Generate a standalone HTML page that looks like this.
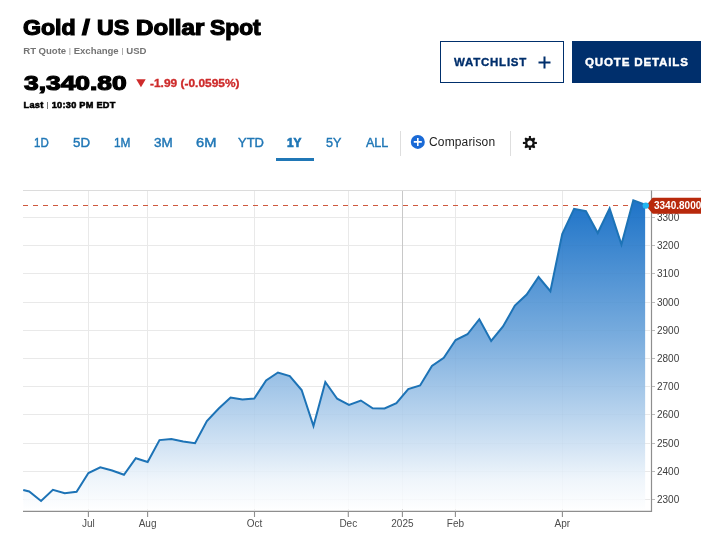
<!DOCTYPE html>
<html><head><meta charset="utf-8"><title>Gold / US Dollar Spot</title>
<style>
html,body{margin:0;padding:0;background:#fff;}
body{width:724px;height:540px;position:relative;overflow:hidden;font-family:"Liberation Sans", Arial, sans-serif;}
.t{position:absolute;white-space:nowrap;line-height:1;font-family:"Liberation Sans", Arial, sans-serif;}
.chart{position:absolute;left:0;top:0;}
.t b{font-weight:normal;-webkit-text-stroke:0;font-size:.74em;position:relative;top:-.09em;padding:0 .04em}
.btn{position:absolute;box-sizing:border-box;top:40.8px;height:41.8px;}
#b1{left:439.8px;width:124.4px;border:1.4px solid #002f6c;background:#fff;}
#b2{left:571.9px;width:129.2px;background:#002f6c;}
.sep{position:absolute;top:131px;height:25px;width:1px;background:#dedede;}
#ul{position:absolute;left:276.1px;top:157.7px;width:38px;height:3px;background:#2077b6;}
</style></head><body>
<svg class="chart" width="724" height="540" viewBox="0 0 724 540">
<defs>
<linearGradient id="g" gradientUnits="userSpaceOnUse" x1="0" y1="195" x2="0" y2="511">
<stop offset="0" stop-color="#1a71c7"/>
<stop offset="0.45" stop-color="#7aadde"/>
<stop offset="0.78" stop-color="#cee1f3"/>
<stop offset="0.9" stop-color="#eff5fb"/>
<stop offset="1" stop-color="#ffffff"/>
</linearGradient>
<clipPath id="a"><path d="M23.25,509.3 L23.25,490.0 L29.2,491.5 L41.05,501 L52.89,489.75 L64.73,493.25 L76.58,491.75 L88.42,473 L100.27,467.25 L112.12,470.5 L123.96,474.75 L135.81,458.25 L147.65,462 L159.5,440.1 L171.34,438.9 L183.19,441.5 L195.03,443.25 L206.88,421 L218.72,408.5 L230.56,397.5 L242.41,399.5 L254.25,398.5 L266.1,380.5 L277.94,372.5 L289.79,376 L301.63,390 L313.48,426 L325.32,382 L337.17,398.75 L349.01,405 L360.86,400.5 L372.7,408.25 L384.55,408.5 L396.39,403.25 L408.24,389 L420.09,385.5 L431.93,366 L443.78,357.75 L455.62,340 L467.47,334.25 L479.31,319.2 L491.16,341 L503.0,326.5 L514.85,305.6 L526.69,294.5 L538.54,277 L550.38,291.2 L562.23,234 L574.07,208.8 L585.92,211.2 L597.76,233 L609.61,208.5 L621.45,244.5 L633.3,200.3 L645.14,204.8 L645.14,509.3 Z"/></clipPath>
<clipPath id="c"><rect x="0" y="0" width="701" height="540"/></clipPath>
</defs>
<g stroke="#e9e9e9" stroke-width="1" shape-rendering="crispEdges"><line x1="23" x2="650" y1="499.5" y2="499.5"/><line x1="23" x2="650" y1="471.5" y2="471.5"/><line x1="23" x2="650" y1="443.5" y2="443.5"/><line x1="23" x2="650" y1="414.5" y2="414.5"/><line x1="23" x2="650" y1="386.5" y2="386.5"/><line x1="23" x2="650" y1="358.5" y2="358.5"/><line x1="23" x2="650" y1="330.5" y2="330.5"/><line x1="23" x2="650" y1="302.5" y2="302.5"/><line x1="23" x2="650" y1="273.5" y2="273.5"/><line x1="23" x2="650" y1="245.5" y2="245.5"/><line x1="23" x2="650" y1="217.5" y2="217.5"/><line x1="88.4" x2="88.4" y1="190.5" y2="510" /><line x1="147.6" x2="147.6" y1="190.5" y2="510" /><line x1="254.5" x2="254.5" y1="190.5" y2="510" /><line x1="348.3" x2="348.3" y1="190.5" y2="510" /><line x1="402.4" x2="402.4" y1="190.5" y2="510" stroke="#c8c8c8"/><line x1="455.4" x2="455.4" y1="190.5" y2="510" /><line x1="562.4" x2="562.4" y1="190.5" y2="510" /></g>
<line x1="23" x2="701" y1="190.5" y2="190.5" stroke="#dcdcdc" stroke-width="1"/>
<line x1="23" x2="650" y1="205.5" y2="205.5" stroke="#cf5a3f" stroke-width="1.2" stroke-dasharray="5 5"/>
<path d="M23.25,509.3 L23.25,490.0 L29.2,491.5 L41.05,501 L52.89,489.75 L64.73,493.25 L76.58,491.75 L88.42,473 L100.27,467.25 L112.12,470.5 L123.96,474.75 L135.81,458.25 L147.65,462 L159.5,440.1 L171.34,438.9 L183.19,441.5 L195.03,443.25 L206.88,421 L218.72,408.5 L230.56,397.5 L242.41,399.5 L254.25,398.5 L266.1,380.5 L277.94,372.5 L289.79,376 L301.63,390 L313.48,426 L325.32,382 L337.17,398.75 L349.01,405 L360.86,400.5 L372.7,408.25 L384.55,408.5 L396.39,403.25 L408.24,389 L420.09,385.5 L431.93,366 L443.78,357.75 L455.62,340 L467.47,334.25 L479.31,319.2 L491.16,341 L503.0,326.5 L514.85,305.6 L526.69,294.5 L538.54,277 L550.38,291.2 L562.23,234 L574.07,208.8 L585.92,211.2 L597.76,233 L609.61,208.5 L621.45,244.5 L633.3,200.3 L645.14,204.8 L645.14,509.3 Z" fill="url(#g)"/>
<g clip-path="url(#a)" stroke="#000" stroke-opacity="0.013" stroke-width="1" shape-rendering="crispEdges"><line x1="23" x2="650" y1="499.5" y2="499.5"/><line x1="23" x2="650" y1="471.5" y2="471.5"/><line x1="23" x2="650" y1="443.5" y2="443.5"/><line x1="23" x2="650" y1="414.5" y2="414.5"/><line x1="23" x2="650" y1="386.5" y2="386.5"/><line x1="23" x2="650" y1="358.5" y2="358.5"/><line x1="23" x2="650" y1="330.5" y2="330.5"/><line x1="23" x2="650" y1="302.5" y2="302.5"/><line x1="23" x2="650" y1="273.5" y2="273.5"/><line x1="23" x2="650" y1="245.5" y2="245.5"/><line x1="23" x2="650" y1="217.5" y2="217.5"/><line x1="88.4" x2="88.4" y1="190.5" y2="510" /><line x1="147.6" x2="147.6" y1="190.5" y2="510" /><line x1="254.5" x2="254.5" y1="190.5" y2="510" /><line x1="348.3" x2="348.3" y1="190.5" y2="510" /><line x1="402.4" x2="402.4" y1="190.5" y2="510" /><line x1="455.4" x2="455.4" y1="190.5" y2="510" /><line x1="562.4" x2="562.4" y1="190.5" y2="510" /></g>
<polyline points="23.25,490.0 29.2,491.5 41.05,501 52.89,489.75 64.73,493.25 76.58,491.75 88.42,473 100.27,467.25 112.12,470.5 123.96,474.75 135.81,458.25 147.65,462 159.5,440.1 171.34,438.9 183.19,441.5 195.03,443.25 206.88,421 218.72,408.5 230.56,397.5 242.41,399.5 254.25,398.5 266.1,380.5 277.94,372.5 289.79,376 301.63,390 313.48,426 325.32,382 337.17,398.75 349.01,405 360.86,400.5 372.7,408.25 384.55,408.5 396.39,403.25 408.24,389 420.09,385.5 431.93,366 443.78,357.75 455.62,340 467.47,334.25 479.31,319.2 491.16,341 503.0,326.5 514.85,305.6 526.69,294.5 538.54,277 550.38,291.2 562.23,234 574.07,208.8 585.92,211.2 597.76,233 609.61,208.5 621.45,244.5 633.3,200.3 645.14,204.8" fill="none" stroke="#1d73b6" stroke-width="2" stroke-linejoin="miter" stroke-miterlimit="6"/>
<line x1="23" x2="652" y1="511.4" y2="511.4" stroke="#8e8e8e" stroke-width="1.2"/>
<line x1="651.5" x2="651.5" y1="190.5" y2="512" stroke="#8e8e8e" stroke-width="1.2"/>
<g stroke="#8e8e8e" stroke-width="1.1"><line x1="88.4" x2="88.4" y1="511" y2="517"/><line x1="147.6" x2="147.6" y1="511" y2="517"/><line x1="254.5" x2="254.5" y1="511" y2="517"/><line x1="348.3" x2="348.3" y1="511" y2="517"/><line x1="402.4" x2="402.4" y1="511" y2="517"/><line x1="455.4" x2="455.4" y1="511" y2="517"/><line x1="562.4" x2="562.4" y1="511" y2="517"/></g>
<g stroke="#bbb" stroke-width="1"><line x1="652" x2="655" y1="499.5" y2="499.5"/><line x1="652" x2="655" y1="471.5" y2="471.5"/><line x1="652" x2="655" y1="443.5" y2="443.5"/><line x1="652" x2="655" y1="414.5" y2="414.5"/><line x1="652" x2="655" y1="386.5" y2="386.5"/><line x1="652" x2="655" y1="358.5" y2="358.5"/><line x1="652" x2="655" y1="330.5" y2="330.5"/><line x1="652" x2="655" y1="302.5" y2="302.5"/><line x1="652" x2="655" y1="273.5" y2="273.5"/><line x1="652" x2="655" y1="245.5" y2="245.5"/><line x1="652" x2="655" y1="217.5" y2="217.5"/></g>
<g font-family="Liberation Sans, Arial, sans-serif" font-size="10" fill="#4d4d4d"><text x="88.4" y="526.8" text-anchor="middle">Jul</text><text x="147.6" y="526.8" text-anchor="middle">Aug</text><text x="254.5" y="526.8" text-anchor="middle">Oct</text><text x="348.3" y="526.8" text-anchor="middle">Dec</text><text x="402.4" y="526.8" text-anchor="middle">2025</text><text x="455.4" y="526.8" text-anchor="middle">Feb</text><text x="562.4" y="526.8" text-anchor="middle">Apr</text></g>
<g font-family="Liberation Sans, Arial, sans-serif" font-size="10" fill="#3c3c3c"><text x="657" y="503.0">2300</text><text x="657" y="475.0">2400</text><text x="657" y="447.0">2500</text><text x="657" y="418.0">2600</text><text x="657" y="390.0">2700</text><text x="657" y="362.0">2800</text><text x="657" y="334.0">2900</text><text x="657" y="306.0">3000</text><text x="657" y="277.0">3100</text><text x="657" y="249.0">3200</text><text x="657" y="221.0">3300</text></g>
<g clip-path="url(#c)">
<path d="M646,205.7 L652.6,197.8 L702,197.8 L702,213.7 L652.6,213.7 Z" fill="#b8290c"/>
<text x="654" y="209.2" font-family="Liberation Sans, Arial, sans-serif" font-size="10" font-weight="bold" fill="#fff">3340.8000</text>
</g>
<circle cx="645.8" cy="205.6" r="3.2" fill="#22b5f0"/>
</svg>
<div class="btn" id="b1"></div><div class="btn" id="b2"></div>
<span id="ti1" class="t" style="left:23.38px;top:17.00px;font-size:21.8px;font-weight:bold;color:#000;letter-spacing:0.000px;-webkit-text-stroke:1.2px #000;transform:scaleX(1.0613);transform-origin:0 0;">Gold</span>
<span id="ti2" class="t" style="left:81.76px;top:17.00px;font-size:21.8px;font-weight:bold;color:#000;letter-spacing:0.000px;-webkit-text-stroke:1.2px #000;transform:scaleX(1.2894);transform-origin:0 0;">/</span>
<span id="ti3" class="t" style="left:97.08px;top:17.00px;font-size:21.8px;font-weight:bold;color:#000;letter-spacing:0.000px;-webkit-text-stroke:1.2px #000;transform:scaleX(1.0609);transform-origin:0 0;">US</span>
<span id="ti4" class="t" style="left:135.86px;top:17.00px;font-size:21.8px;font-weight:bold;color:#000;letter-spacing:0.000px;-webkit-text-stroke:1.2px #000;transform:scaleX(1.1058);transform-origin:0 0;">Dollar</span>
<span id="ti5" class="t" style="left:210.41px;top:17.00px;font-size:21.8px;font-weight:bold;color:#000;letter-spacing:0.000px;-webkit-text-stroke:1.2px #000;transform:scaleX(1.0464);transform-origin:0 0;">Spot</span>
<span id="sub" class="t" style="left:23.30px;top:46.00px;font-size:9.6px;font-weight:bold;color:#747474;letter-spacing:-0.046px;">RT Quote <b>|</b> Exchange <b>|</b> USD</span>
<span id="price" class="t" style="left:23.83px;top:73.00px;font-size:20.8px;font-weight:bold;color:#000;letter-spacing:0.000px;-webkit-text-stroke:1.2px #000;transform:scaleX(1.2678);transform-origin:0 0;">3,340.80</span>
<span id="chg" class="t" style="left:150.09px;top:77.00px;font-size:11.6px;font-weight:bold;color:#ce2b2b;letter-spacing:0.000px;-webkit-text-stroke:0.35px #ce2b2b;transform:scaleX(1.0288);transform-origin:0 0;">-1.99 (-0.0595%)</span>
<span id="last" class="t" style="left:23.56px;top:101.00px;font-size:9.2px;font-weight:bold;color:#000;letter-spacing:0.262px;-webkit-text-stroke:0.55px #000;">Last <b>|</b> 10:30 PM EDT</span>
<span id="wl" class="t" style="left:453.95px;top:57.00px;font-size:11.4px;font-weight:bold;color:#002f6c;letter-spacing:0.750px;-webkit-text-stroke:0.35px #002f6c;transform:scaleX(1.0101);transform-origin:0 0;">WATCHLIST</span>
<span id="qd" class="t" style="left:584.72px;top:57.00px;font-size:11.4px;font-weight:bold;color:#fff;letter-spacing:0.800px;-webkit-text-stroke:0.4px #fff;transform:scaleX(1.0176);transform-origin:0 0;">QUOTE DETAILS</span>
<span id="t1" class="t" style="left:34.39px;top:137.00px;font-size:12.4px;font-weight:normal;color:#2077b6;letter-spacing:0.000px;-webkit-text-stroke:0.4px #2077b6;transform:scaleX(0.9276);transform-origin:0 0;">1D</span>
<span id="t2" class="t" style="left:72.97px;top:137.00px;font-size:12.4px;font-weight:normal;color:#2077b6;letter-spacing:0.000px;-webkit-text-stroke:0.4px #2077b6;transform:scaleX(1.0745);transform-origin:0 0;">5D</span>
<span id="t3" class="t" style="left:113.99px;top:137.00px;font-size:12.4px;font-weight:normal;color:#2077b6;letter-spacing:0.000px;-webkit-text-stroke:0.4px #2077b6;transform:scaleX(0.9605);transform-origin:0 0;">1M</span>
<span id="t4" class="t" style="left:153.80px;top:137.00px;font-size:12.4px;font-weight:normal;color:#2077b6;letter-spacing:0.000px;-webkit-text-stroke:0.4px #2077b6;transform:scaleX(1.0860);transform-origin:0 0;">3M</span>
<span id="t5" class="t" style="left:196.42px;top:137.00px;font-size:12.4px;font-weight:normal;color:#2077b6;letter-spacing:0.000px;-webkit-text-stroke:0.4px #2077b6;transform:scaleX(1.1838);transform-origin:0 0;">6M</span>
<span id="t6" class="t" style="left:238.12px;top:137.00px;font-size:12.4px;font-weight:normal;color:#2077b6;letter-spacing:0.000px;-webkit-text-stroke:0.4px #2077b6;transform:scaleX(1.0464);transform-origin:0 0;">YTD</span>
<span id="t7" class="t" style="left:287.11px;top:137.00px;font-size:12.4px;font-weight:bold;color:#2077b6;letter-spacing:0.000px;-webkit-text-stroke:0.7px #2077b6;transform:scaleX(0.9529);transform-origin:0 0;">1Y</span>
<span id="t8" class="t" style="left:326.37px;top:137.00px;font-size:12.4px;font-weight:normal;color:#2077b6;letter-spacing:0.000px;-webkit-text-stroke:0.4px #2077b6;transform:scaleX(1.0190);transform-origin:0 0;">5Y</span>
<span id="t9" class="t" style="left:365.78px;top:137.00px;font-size:12.4px;font-weight:normal;color:#2077b6;letter-spacing:0.000px;-webkit-text-stroke:0.4px #2077b6;transform:scaleX(1.0127);transform-origin:0 0;">ALL</span>
<span id="cmp" class="t" style="left:428.97px;top:136.00px;font-size:12px;font-weight:normal;color:#222;letter-spacing:0.161px;">Comparison</span>
<svg class="chart" width="724" height="170" viewBox="0 0 724 170">
<path d="M136.2,79.2 L145.7,79.2 L140.95,87.2 Z" fill="#ce2b2b"/>
<path d="M538.5,62.4 H550.5 M544.5,56.4 V68.4" stroke="#002f6c" stroke-width="2" fill="none"/>
<circle cx="417.8" cy="141.9" r="7" fill="#1a6ad6"/>
<path d="M413.8,141.9 H421.8 M417.8,137.9 V145.9" stroke="#fff" stroke-width="1.6" fill="none"/>
<g transform="translate(529.9,142.96)" fill="#111">
<circle r="3.7" fill="none" stroke="#111" stroke-width="2.3"/>
<rect x="-1.05" y="-7" width="2.1" height="2.8"/><rect x="-1.05" y="4.2" width="2.1" height="2.8"/><rect x="-7" y="-1.05" width="2.8" height="2.1"/><rect x="4.2" y="-1.05" width="2.8" height="2.1"/>
<path d="M-1.9,-4.1 L-0.8,-6.8 L0.8,-6.8 L1.9,-4.1 Z" transform="rotate(45)"/><path d="M-1.9,-4.1 L-0.8,-6.8 L0.8,-6.8 L1.9,-4.1 Z" transform="rotate(135)"/><path d="M-1.9,-4.1 L-0.8,-6.8 L0.8,-6.8 L1.9,-4.1 Z" transform="rotate(225)"/><path d="M-1.9,-4.1 L-0.8,-6.8 L0.8,-6.8 L1.9,-4.1 Z" transform="rotate(315)"/>
</g>
</svg>
<div class="sep" style="left:400px"></div><div class="sep" style="left:510px"></div>
<div id="ul"></div>
</body></html>
